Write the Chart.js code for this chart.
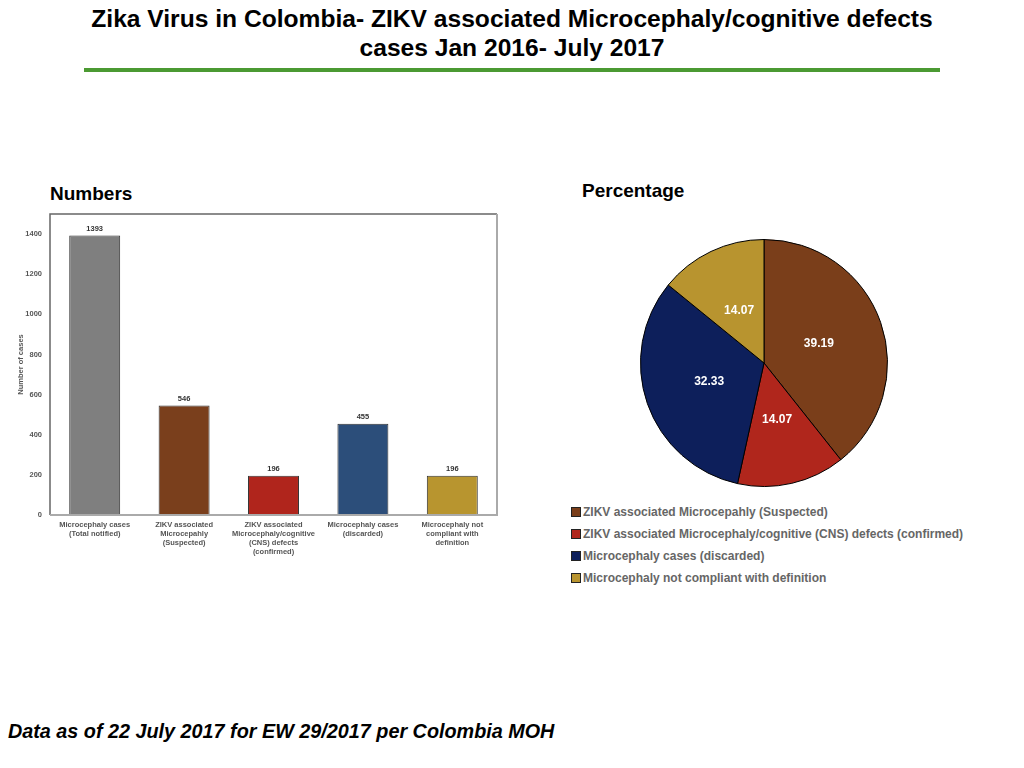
<!DOCTYPE html>
<html><head><meta charset="utf-8">
<script src="https://cdn.jsdelivr.net/npm/chart.js@4.4.0/dist/chart.umd.min.js"></script>
<style>
body{margin:0;width:1024px;height:768px;background:#fff;position:relative;overflow:hidden;font-family:"Liberation Sans",Arial,sans-serif;}
.abs{position:absolute;}
#title{left:0;width:1024px;top:4px;text-align:center;font-family:"Liberation Sans",sans-serif;font-weight:bold;font-size:24.6px;line-height:29px;color:#000;}
#rule{left:84px;top:68px;width:856px;height:4px;background:#4b9a32;}
#hNum{left:50px;top:183px;font-weight:bold;font-size:19px;color:#000;}
#hPct{left:582px;top:180px;font-weight:bold;font-size:19px;color:#000;}
#foot{left:8px;top:720px;font-weight:bold;font-style:italic;font-size:19.8px;color:#000;}
#legend{left:571px;top:504px;font-weight:bold;font-size:12px;color:#666;}
#legend div{height:22px;line-height:16px;white-space:nowrap;}
#legend span.sw{display:inline-block;width:8px;height:8px;border:1px solid #222;margin-right:2px;vertical-align:-1px;}
</style></head><body>
<div id="title" class="abs">Zika Virus in Colombia- ZIKV associated Microcephaly/cognitive defects<br>cases Jan 2016- July 2017</div>
<div id="rule" class="abs"></div>
<div id="hNum" class="abs">Numbers</div>
<div id="hPct" class="abs">Percentage</div>
<div class="abs" style="left:0;top:200px;width:510px;height:370px;"><canvas id="bar" width="510" height="370"></canvas></div>
<div class="abs" style="left:634px;top:233px;width:260px;height:260px;"><canvas id="pie" width="260" height="260"></canvas></div>
<div id="legend" class="abs"></div>
<div id="foot" class="abs">Data as of 22 July 2017 for EW 29/2017 per Colombia MOH</div>
<script>
// ---- data ----
const barCategories = [
  ["Microcephaly cases", "(Total notified)"],
  ["ZIKV associated", "Microcepahly", "(Suspected)"],
  ["ZIKV associated", "Microcephaly/cognitive", "(CNS) defects", "(confirmed)"],
  ["Microcephaly cases", "(discarded)"],
  ["Microcephaly not", "compliant with", "definition"]
];
const barValues = [1393, 546, 196, 455, 196];
const barColors = ["#7f7f7f", "#7a3f1c", "#b0251c", "#2c4e7a", "#b8952f"];
const yTickMax = 1500;
const yTickStep = 200;
const yAxisTitle = "Number of cases";

const pieLabels = [
  "ZIKV associated Microcepahly (Suspected)",
  "ZIKV associated Microcephaly/cognitive (CNS) defects (confirmed)",
  "Microcephaly cases (discarded)",
  "Microcephaly not compliant with definition"
];
const pieValues = [39.19, 14.07, 32.33, 14.07];
const pieColors = ["#7a3e1a", "#b0261c", "#0d1f5b", "#b8942f"];

const FONT = '"Liberation Sans", Arial, sans-serif';

// ---- bar chart ----
const boxPlugin = {
  id: 'box',
  afterDraw(chart) {
    const {ctx, chartArea: a} = chart;
    ctx.save();
    ctx.lineWidth = 1.5;
    ctx.strokeStyle = '#666';
    ctx.beginPath();
    ctx.moveTo(a.left, a.bottom); ctx.lineTo(a.left, a.top); ctx.lineTo(a.right, a.top);
    ctx.stroke();
    ctx.strokeStyle = '#aaa';
    ctx.lineWidth = 2;
    ctx.beginPath();
    ctx.moveTo(a.right, a.top); ctx.lineTo(a.right, a.bottom); ctx.lineTo(a.left, a.bottom);
    ctx.stroke();
    ctx.restore();
  },
  afterDatasetsDraw(chart) {
    const {ctx} = chart;
    const meta = chart.getDatasetMeta(0);
    ctx.save();
    ctx.font = 'bold 7.5px ' + FONT;
    ctx.fillStyle = '#333';
    ctx.textAlign = 'center';
    ctx.textBaseline = 'bottom';
    meta.data.forEach((el, i) => {
      ctx.fillText(String(chart.data.datasets[0].data[i]), el.x, el.y - 3);
    });
    ctx.restore();
  }
};

new Chart(document.getElementById('bar'), {
  type: 'bar',
  data: {
    labels: barCategories,
    datasets: [{
      data: barValues,
      backgroundColor: barColors,
      borderColor: '#333',
      borderWidth: 1,
      categoryPercentage: 1,
      barPercentage: 0.57
    }]
  },
  options: {
    responsive: false,
    animation: false,
    layout: {padding: {top: 14, right: 13, left: 0, bottom: 0}},
    plugins: {legend: {display: false}, tooltip: {enabled: false}},
    scales: {
      x: {
        grid: {display: false, drawTicks: false},
        border: {display: false},
        ticks: {
          maxRotation: 0, minRotation: 0, autoSkip: false, padding: 5,
          color: '#555', font: {family: FONT, size: 7.5, weight: 'bold', lineHeight: 1.2}
        },
        afterFit(s) { s.height = 55; }
      },
      y: {
        min: 0, max: yTickMax,
        grid: {display: false, drawTicks: false},
        border: {display: false},
        ticks: {
          stepSize: yTickStep, includeBounds: false, padding: 8,
          color: '#555', font: {family: FONT, size: 7.5, weight: 'bold'},
          callback: (v) => String(v)
        },
        title: {
          display: true, text: yAxisTitle, color: '#555',
          font: {family: FONT, size: 7.5, weight: 'bold'},
          padding: {top: 16, bottom: 0}
        },
        afterFit(s) { s.width = 50; }
      }
    }
  },
  plugins: [boxPlugin]
});

// ---- pie chart ----
const pieLabelPlugin = {
  id: 'pieLabels',
  afterDatasetsDraw(chart) {
    const {ctx} = chart;
    const meta = chart.getDatasetMeta(0);
    ctx.save();
    ctx.font = 'bold 12px ' + FONT;
    ctx.fillStyle = '#fff';
    ctx.textAlign = 'center';
    ctx.textBaseline = 'middle';
    meta.data.forEach((el, i) => {
      const p = el.getProps(['x', 'y', 'startAngle', 'endAngle', 'outerRadius'], true);
      const mid = (p.startAngle + p.endAngle) / 2;
      const r = p.outerRadius * 0.47;
      ctx.fillText(chart.data.datasets[0].data[i].toFixed(2), p.x + Math.cos(mid) * r, p.y + Math.sin(mid) * r);
    });
    ctx.restore();
  }
};

new Chart(document.getElementById('pie'), {
  type: 'pie',
  data: {
    labels: pieLabels,
    datasets: [{
      data: pieValues,
      backgroundColor: pieColors,
      borderColor: '#000',
      borderWidth: 1
    }]
  },
  options: {
    responsive: false,
    animation: false,
    layout: {padding: 6},
    plugins: {legend: {display: false}, tooltip: {enabled: false}}
  },
  plugins: [pieLabelPlugin]
});

// ---- HTML legend ----
const leg = document.getElementById('legend');
pieLabels.forEach((t, i) => {
  const row = document.createElement('div');
  const sw = document.createElement('span');
  sw.className = 'sw';
  sw.style.background = pieColors[i];
  row.appendChild(sw);
  row.appendChild(document.createTextNode(t));
  leg.appendChild(row);
});
</script>
</body></html>
